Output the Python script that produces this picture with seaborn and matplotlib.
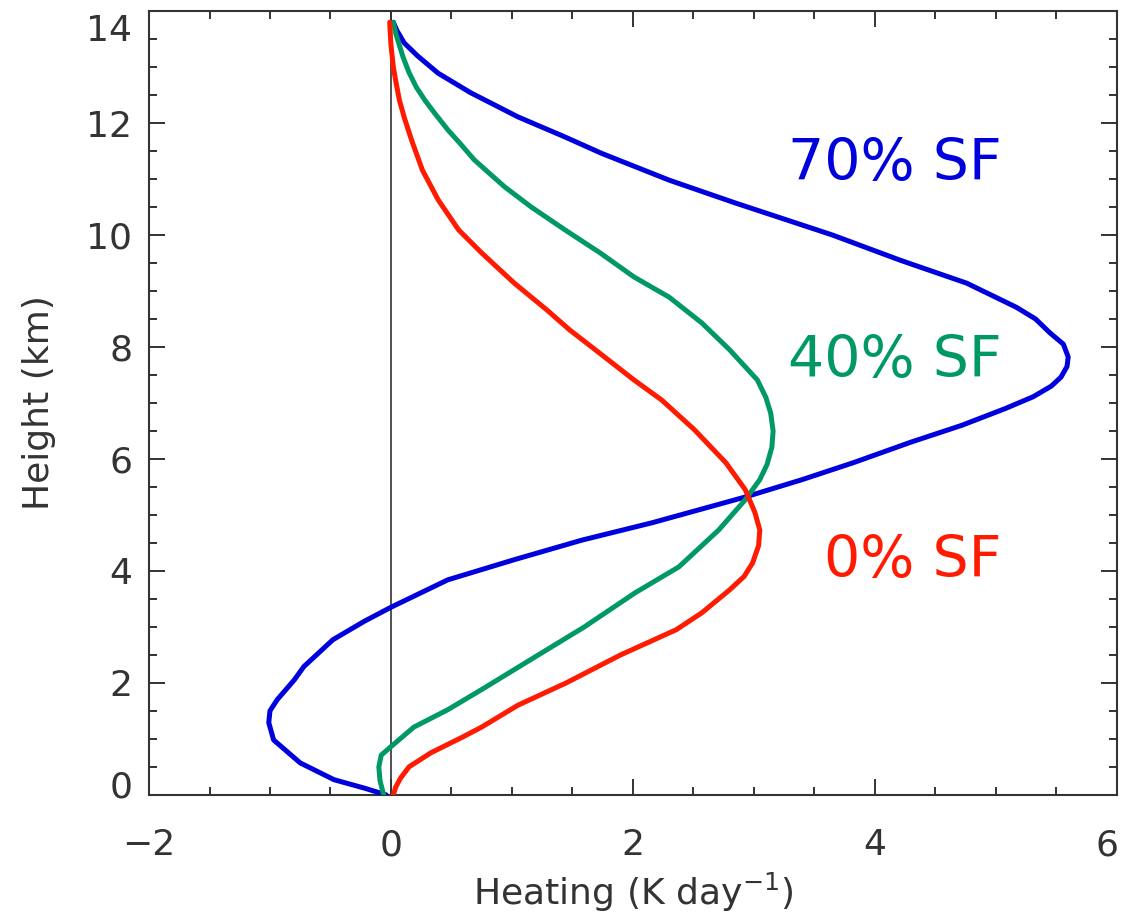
import numpy as np
import pandas as pd
import seaborn as sns
import matplotlib
matplotlib.use("Agg")
import matplotlib.pyplot as plt
import matplotlib.transforms as mtransforms
from matplotlib.ticker import MultipleLocator

# ---- data (height in km, heating in K/day) ----
h70 = [0.0, 0.12, 0.27, 0.57, 0.98, 1.29, 1.50, 1.70, 2.05, 2.29, 2.77, 3.10, 3.35, 3.84,
       4.20, 4.55, 4.86, 5.32, 5.63, 5.93, 6.30, 6.60, 6.90, 7.11, 7.30, 7.46, 7.65, 7.82,
       8.05, 8.25, 8.50, 8.71, 9.14, 9.55, 10.0, 10.57, 10.98, 11.46, 11.75, 12.11, 12.54,
       12.89, 13.20, 13.43, 13.65, 13.80]
q70 = [-0.04, -0.22, -0.47, -0.75, -0.97, -1.01, -1.00, -0.94, -0.80, -0.72, -0.48, -0.22, 0.0, 0.47,
       1.02, 1.58, 2.16, 2.93, 3.40, 3.82, 4.30, 4.72, 5.08, 5.31, 5.46, 5.54, 5.59, 5.60,
       5.56, 5.45, 5.33, 5.17, 4.76, 4.21, 3.65, 2.85, 2.30, 1.74, 1.44, 1.05, 0.66,
       0.39, 0.22, 0.11, 0.05, 0.02]

h40 = [0.0, 0.25, 0.5, 0.71, 0.86, 1.21, 1.52, 1.88, 2.5, 3.0, 3.61, 4.07, 4.73, 5.27, 5.63,
       5.90, 6.21, 6.50, 6.82, 7.10, 7.41, 7.95, 8.43, 8.89, 9.25, 9.68, 10.09, 10.5, 10.86,
       11.34, 11.64, 11.88, 12.18, 12.41, 12.64, 12.90, 13.18, 13.6, 13.8]
q40 = [-0.06, -0.09, -0.10, -0.08, 0.0, 0.19, 0.47, 0.75, 1.22, 1.60, 2.02, 2.38, 2.71, 2.93, 3.05,
       3.11, 3.15, 3.16, 3.14, 3.10, 3.03, 2.80, 2.57, 2.30, 2.01, 1.73, 1.44, 1.16, 0.94,
       0.69, 0.57, 0.47, 0.36, 0.28, 0.21, 0.15, 0.10, 0.04, 0.02]

h0 = [0.0, 0.14, 0.3, 0.5, 0.75, 1.04, 1.21, 1.6, 2.0, 2.5, 2.95, 3.25, 3.66, 3.90, 4.14, 4.45,
      4.73, 5.04, 5.45, 5.93, 6.52, 7.05, 7.41, 8.0, 8.30, 8.66, 9.14, 9.68, 10.09, 10.63,
      11.16, 11.70, 12.10, 12.41, 12.75, 13.0, 13.4, 13.8]
q0 = [0.02, 0.04, 0.08, 0.15, 0.33, 0.60, 0.75, 1.05, 1.45, 1.90, 2.36, 2.57, 2.80, 2.92, 2.99, 3.04,
      3.05, 3.01, 2.93, 2.77, 2.51, 2.24, 2.01, 1.66, 1.48, 1.29, 1.02, 0.75, 0.56, 0.39,
      0.26, 0.17, 0.11, 0.07, 0.04, 0.02, 0.0, -0.01]

series = ["70% SF", "40% SF", "0% SF"]
colors = {"70% SF": "#0000dd", "40% SF": "#009966", "0% SF": "#ff1a00"}
label_pos = {"70% SF": (5.05, 10.98), "40% SF": (5.05, 7.46), "0% SF": (5.05, 3.89)}

df = pd.concat([
    pd.DataFrame({"height": h70, "heating": q70, "case": "70% SF"}),
    pd.DataFrame({"height": h40, "heating": q40, "case": "40% SF"}),
    pd.DataFrame({"height": h0, "heating": q0, "case": "0% SF"}),
], ignore_index=True)

sns.set_style("ticks")
plt.rcParams["font.family"] = ["DejaVu Sans"]
ink = "#333333"

fig = plt.figure(figsize=(11.29, 9.21), dpi=100)
ax = fig.add_axes([0.132, 0.137, 0.857, 0.851])

ax.axvline(0, color=ink, lw=1.2, zorder=1)
sns.lineplot(data=df, x="heating", y="height", hue="case", palette=colors,
             estimator=None, sort=False, lw=3.6, legend=False, ax=ax, zorder=3,
             solid_joinstyle="round", solid_capstyle="round")

for s in series:
    x, y = label_pos[s]
    ax.text(x, y, s, color=colors[s], fontsize=41, ha="right", va="baseline")

ax.set_xlim(-2, 6)
ax.set_ylim(0, 14)
ax.xaxis.set_major_locator(MultipleLocator(2))
ax.xaxis.set_minor_locator(MultipleLocator(0.5))
ax.yaxis.set_major_locator(MultipleLocator(2))
ax.yaxis.set_minor_locator(MultipleLocator(0.5))
ax.tick_params(which="both", direction="in", top=True, right=True, color=ink,
               width=1.4, labelcolor=ink, labelsize=26)
ax.tick_params(axis="x", which="both", pad=24)
ax.tick_params(axis="y", which="both", pad=12)
ax.tick_params(which="major", length=11.5)
ax.tick_params(which="minor", length=6)
for sp in ax.spines.values():
    sp.set_color(ink)
    sp.set_linewidth(1.5)

ax.set_xlabel("Heating (K day$^{-1}$)", fontsize=26, color=ink, labelpad=6)
ax.set_ylabel("Height (km)", fontsize=26, color=ink, labelpad=22)

# IDL-style: keep the end labels inside the axis box
fig.canvas.draw()
yt = ax.yaxis.get_major_ticks()
ylocs = ax.yaxis.get_majorticklocs()
for t, v in zip(yt, ylocs):
    if abs(v - 14) < 1e-6:
        t.label1.set_transform(t.label1.get_transform() +
                               mtransforms.ScaledTranslation(0, -16 / 100, fig.dpi_scale_trans))
    if abs(v) < 1e-6:
        t.label1.set_transform(t.label1.get_transform() +
                               mtransforms.ScaledTranslation(0, 11 / 100, fig.dpi_scale_trans))
xt = ax.xaxis.get_major_ticks()
xlocs = ax.xaxis.get_majorticklocs()
for t, v in zip(xt, xlocs):
    if abs(v - 6) < 1e-6:
        t.label1.set_transform(t.label1.get_transform() +
                               mtransforms.ScaledTranslation(-10 / 100, 0, fig.dpi_scale_trans))

fig.savefig("out.png", dpi=100)
